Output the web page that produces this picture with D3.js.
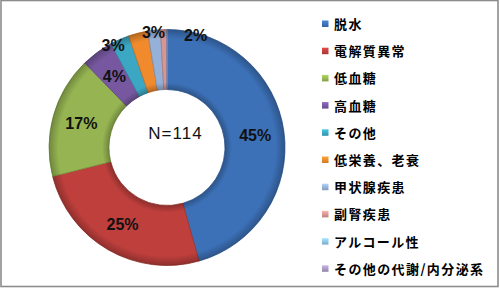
<!DOCTYPE html>
<html><head><meta charset="utf-8">
<script src="https://cdn.jsdelivr.net/npm/d3@7"></script>
<style>
html,body{margin:0;padding:0;background:#fff;}
svg{display:block;}
</style></head>
<body>
<svg id="chart" width="500" height="288"></svg>
<script>
// ---- data ----
const categories = ["脱水","電解質異常","低血糖","高血糖","その他","低栄養、老衰","甲状腺疾患","副腎疾患","アルコール性","その他の代謝/内分泌系"];
const counts = [52, 29, 19, 5, 3, 3, 2, 1, 0, 0];
const pctLabels = ["45%","25%","17%","4%","3%","3%","2%","","",""];
const totalLabel = "N=114";
const colors = ["#3c71b8","#be3f3c","#96b552","#7758a0","#3ca7c3","#f08a2c","#95b1d8","#d89593","#8ec3e8","#a898c2"];

const W = 500, H = 288;
const cx = 167, cy = 147.5, R = 118, r0 = 58;

const svg = d3.select("#chart");
const defs = svg.append("defs");

// frame
svg.append("rect").attr("x",1).attr("y",0.5).attr("width",497).attr("height",286)
  .attr("fill","#fff").attr("stroke","#8c8c8c").attr("stroke-width",1.6);

const pie = d3.pie().value(d => d).sort(null);
const arcs = pie(counts);
const arc = d3.arc().innerRadius(r0).outerRadius(R);

const g = svg.append("g").attr("transform",`translate(${cx},${cy})`);

g.selectAll("path.slice").data(arcs).join("path")
  .attr("class","slice")
  .attr("d", arc)
  .attr("fill",(d,i)=>colors[i])
  .attr("stroke",(d,i)=>d3.color(colors[i]).darker(0.6))
  .attr("stroke-width",0.8);

// bevel shading overlay
const rg = defs.append("radialGradient").attr("id","bevel")
  .attr("gradientUnits","userSpaceOnUse").attr("cx",0).attr("cy",0).attr("r",R);
[[r0/R,0.25],[r0/R+0.06,0],[0.92,0],[1,0.25]].forEach(([o,a])=>{
  rg.append("stop").attr("offset",o).attr("stop-color","#000").attr("stop-opacity",a);
});
g.append("path").attr("d", d3.arc().innerRadius(r0).outerRadius(R).startAngle(0).endAngle(2*Math.PI)())
  .attr("fill","url(#bevel)").attr("pointer-events","none");

// labels
const midR = (r0 + R) / 2 + 1;
const outR = 116;
const smallLimit = 0.035;
const total = d3.sum(counts);
let lastAng = -Infinity;
const gap = 21 * Math.PI / 180;
const back = 4 * Math.PI / 180;
arcs.forEach((d,i)=>{
  if (!pctLabels[i]) return;
  const mid = (d.startAngle + d.endAngle) / 2;
  let ang, rr;
  if (d.value / total >= smallLimit) { ang = mid; rr = midR; }
  else { ang = Math.max(mid - back, lastAng + gap); lastAng = ang; rr = outR; }
  g.append("text")
    .attr("x", rr * Math.sin(ang))
    .attr("y", -rr * Math.cos(ang))
    .attr("dy","0.36em")
    .attr("text-anchor","middle")
    .attr("font-family","'Liberation Sans', Arial, sans-serif")
    .attr("font-weight","bold")
    .attr("font-size",16)
    .attr("fill","#111")
    .text(pctLabels[i]);
});

// center label
svg.append("text").attr("x",175.5).attr("y",139)
  .attr("text-anchor","middle")
  .attr("font-family","'Liberation Sans', Arial, sans-serif")
  .attr("font-size",17).attr("letter-spacing",1)
  .attr("fill","#111")
  .text(totalLabel);

// legend
const ly = d3.scaleLinear().domain([0, categories.length-1]).range([23.5, 268.3]);
const leg = svg.append("g");
categories.forEach((c,i)=>{
  const y = ly(i);
  const lgId = "lg"+i;
  const lg = defs.append("linearGradient").attr("id",lgId).attr("x1",0).attr("y1",0).attr("x2",0).attr("y2",1);
  lg.append("stop").attr("offset",0).attr("stop-color",d3.color(colors[i]).brighter(0.5));
  lg.append("stop").attr("offset",1).attr("stop-color",d3.color(colors[i]).darker(0.4));
  leg.append("rect").attr("x",322).attr("y",y-3).attr("width",6.5).attr("height",6.5)
    .attr("fill",`url(#${lgId})`);
  leg.append("text").attr("x",334).attr("y",y)
    .attr("dominant-baseline","central")
    .attr("font-family","'Noto Sans CJK JP', sans-serif")
    .attr("font-weight","bold")
    .attr("font-size",13)
    .attr("letter-spacing",1.4)
    .attr("fill","#000")
    .text(c);
});
</script>
</body></html>
